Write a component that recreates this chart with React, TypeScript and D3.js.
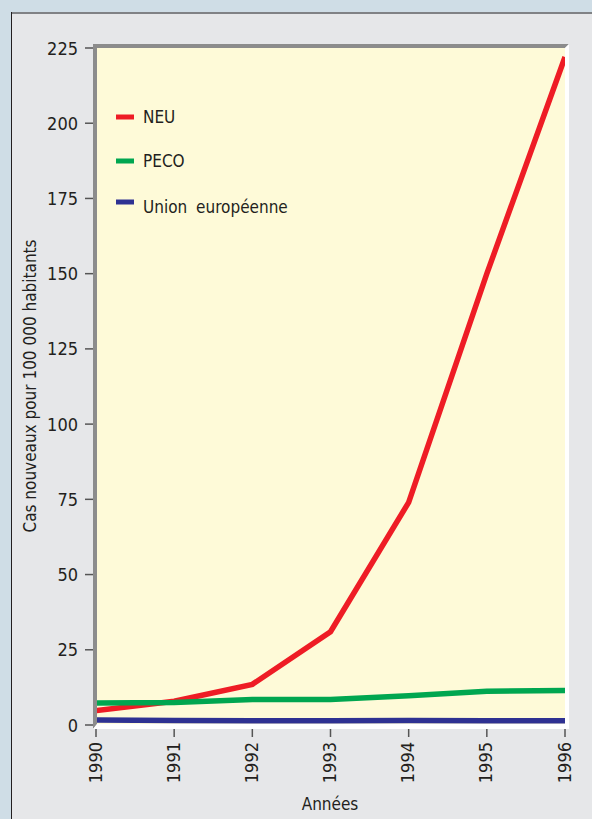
import React from "react";
import * as d3 from "d3";

const years = [1990, 1991, 1992, 1993, 1994, 1995, 1996];
const neu = [4.8, 7.9, 13.5, 31, 74, 150, 222];
const peco = [7.3, 7.5, 8.5, 8.5, 9.7, 11.2, 11.5];
const ue = [1.7, 1.5, 1.4, 1.4, 1.5, 1.4, 1.4];
const yTicks = [0, 25, 50, 75, 100, 125, 150, 175, 200, 225];
const seriesNames = ["NEU", "PECO", "Union européenne"];
const seriesColors = ["#ee1c25", "#00a650", "#2e3192"];

const FONT = "'DejaVu Sans Condensed', 'DejaVu Sans', sans-serif";
const TXT = "#231f20";

export default function App() {
  const W = 592;
  const H = 819;
  const x = d3.scaleLinear().domain([1990, 1996]).range([96, 565]);
  const y = d3.scaleLinear().domain([0, 225]).range([725, 48]);
  const line = d3
    .line<number>()
    .x((_, i) => x(years[i]))
    .y((d) => y(d));
  const series = [neu, peco, ue];
  const legendY = [117, 161, 202];
  const legendBase = [123, 167, 213];

  return (
    <svg
      width={W}
      height={H}
      style={{ position: "absolute", left: 0, top: 0 }}
      fontFamily={FONT}
    >
      <defs>
        <clipPath id="plotclip">
          <rect x={97} y={48} width={468} height={676} />
        </clipPath>
      </defs>
      <rect x={0} y={0} width={W} height={H} fill="#cfdde6" />
      <rect x={11} y={12} width={W} height={H} fill="#e6e7e9" />
      <line x1={11} x2={W} y1={13} y2={13} stroke="#808285" strokeWidth={2} />
      <line x1={11.5} x2={11.5} y1={12} y2={H} stroke="#231f20" strokeWidth={1} />

      {/* plot frame */}
      <polygon points="93,44 569,44 565,48 97,48 97,724 93,729" fill="#8c8c8c" />
      <polygon points="569,44 569,729 93,729 97,724 565,724 565,48" fill="#ffffff" />
      <rect x={97} y={48} width={468} height={676} fill="#fefad8" />

      {/* y axis */}
      {yTicks.map((t) => (
        <g key={t}>
          <line x1={85} x2={93} y1={y(t)} y2={y(t)} stroke="#555" strokeWidth={1.5} />
          <text
            x={78}
            y={y(t)}
            textAnchor="end"
            dominantBaseline="central"
            fontSize={18}
            fill={TXT}
          >
            {t}
          </text>
        </g>
      ))}

      {/* x axis */}
      {years.map((yr) => (
        <g key={yr}>
          <line x1={x(yr)} x2={x(yr)} y1={729} y2={737} stroke="#555" strokeWidth={1.5} />
          <text
            transform={`translate(${x(yr) - 1},742) rotate(-90)`}
            textAnchor="end"
            dominantBaseline="central"
            fontSize={18}
            fill={TXT}
          >
            {yr}
          </text>
        </g>
      ))}

      {/* lines */}
      <g clipPath="url(#plotclip)">
        {series.map((s, i) => (
          <path
            key={i}
            d={line(s) || ""}
            fill="none"
            stroke={seriesColors[i]}
            strokeWidth={5.5}
            strokeLinejoin="miter"
          />
        ))}
      </g>

      {/* legend */}
      {seriesNames.map((n, i) => (
        <g key={n}>
          <line
            x1={116}
            x2={134}
            y1={legendY[i]}
            y2={legendY[i]}
            stroke={seriesColors[i]}
            strokeWidth={5}
          />
          <text x={143} y={legendBase[i]} fontSize={17} fill={TXT} wordSpacing={4}>
            {n}
          </text>
        </g>
      ))}

      {/* axis titles */}
      <text
        transform="translate(36,386) rotate(-90)"
        textAnchor="middle"
        fontSize={17}
        fill={TXT}
      >
        Cas nouveaux pour 100 000 habitants
      </text>
      <text x={330} y={810} textAnchor="middle" fontSize={17} fill={TXT}>
        Années
      </text>
    </svg>
  );
}
